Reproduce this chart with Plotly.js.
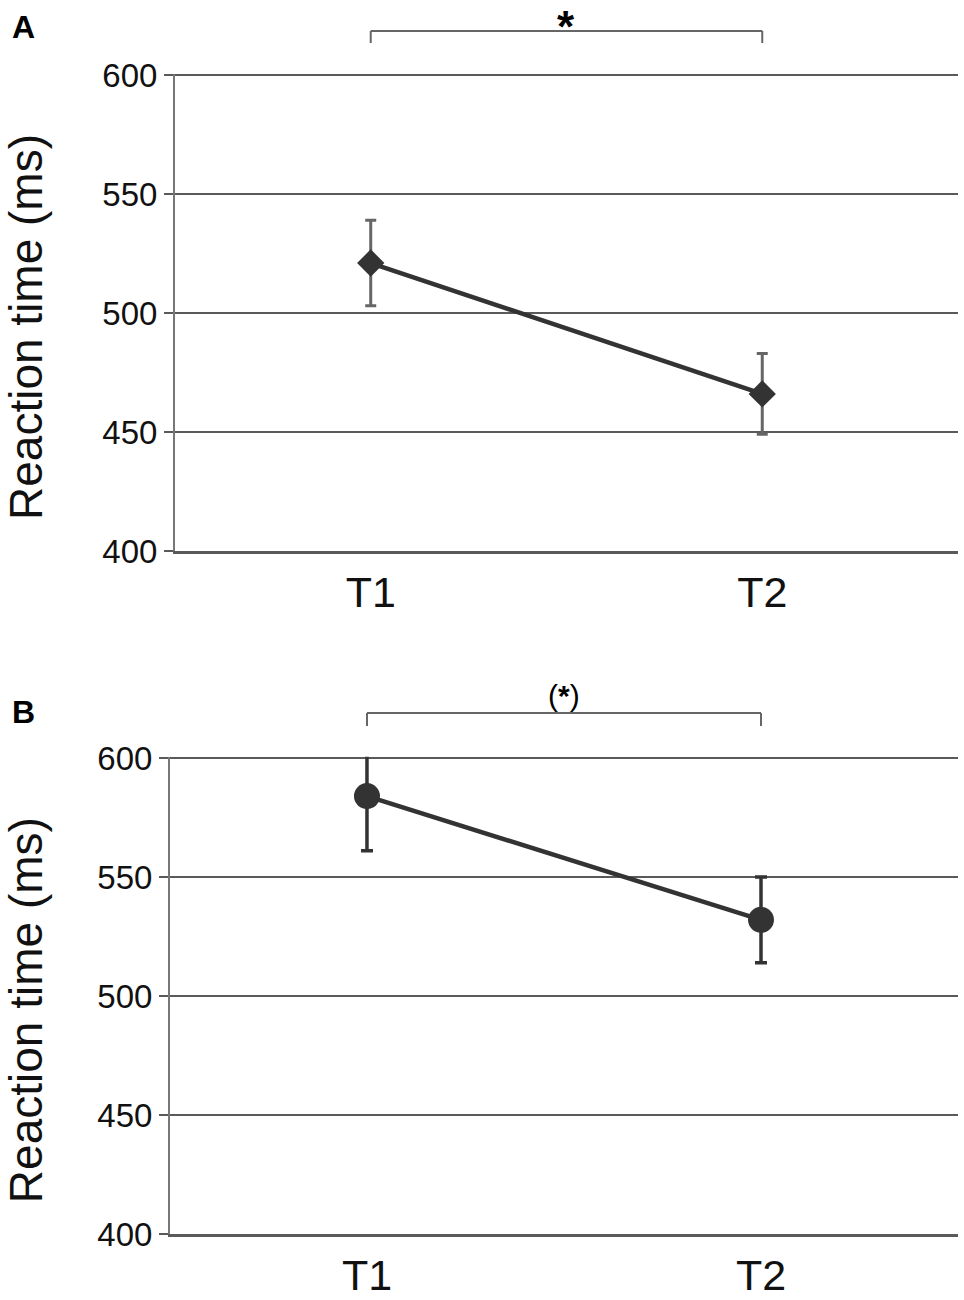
<!DOCTYPE html>
<html>
<head>
<meta charset="utf-8">
<script src="https://cdn.plot.ly/plotly-3.0.1.min.js"></script>
<style>
  html, body { margin: 0; padding: 0; background: #fff; }
  #plot { width: 964px; height: 1300px; }
</style>
</head>
<body>
<div id="plot"></div>
<script>
(function (document, window) {

    // Datos
    var sesiones = ['T1', 'T2'];

    var tiempoA = [521, 466];
    var errorA = [18, 17];

    var tiempoB = [584, 532];
    var errorB = [23, 18];

    var ticksY = [400, 450, 500, 550, 600];

    document.addEventListener("DOMContentLoaded", function () {

        var fuente = 'Liberation Sans, Arial, sans-serif';
        var tituloY = 'Reaction time (ms)';

        var trazaA = {
            x: sesiones, y: tiempoA, type: 'scatter', mode: 'lines+markers',
            xaxis: 'x', yaxis: 'y',
            line: { color: '#333333', width: 4.5 },
            marker: { symbol: 'diamond', size: 21, color: '#333333' },
            error_y: { type: 'data', array: errorA, visible: true, color: '#666666', thickness: 3, width: 5.5 },
            showlegend: false
        };

        var trazaB = {
            x: sesiones, y: tiempoB, type: 'scatter', mode: 'lines+markers',
            xaxis: 'x2', yaxis: 'y2',
            line: { color: '#333333', width: 4.5 },
            marker: { symbol: 'circle', size: 26, color: '#333333' },
            error_y: { type: 'data', array: errorB, visible: true, color: '#333333', thickness: 3.5, width: 6 },
            showlegend: false
        };

        // el rango llega a 600.5 para que se dibuje la linea de 600
        function ejeY(dominio, ancla) {
            return {
                domain: dominio, anchor: ancla,
                range: [400, 600.5], tickvals: ticksY,
                showgrid: true, gridcolor: '#5a5a5a', gridwidth: 2.8,
                zeroline: false,
                showline: true, linecolor: '#777777', linewidth: 2,
                ticks: 'outside', ticklen: 9, tickwidth: 2.8, tickcolor: '#5a5a5a',
                tickfont: { family: fuente, size: 33, color: '#111111' },
                fixedrange: true
            };
        }

        function ejeX(dominio, ancla) {
            return {
                domain: dominio, anchor: ancla,
                type: 'category', range: [-0.5, 1.5],
                showgrid: false, zeroline: false,
                showline: true, linecolor: '#5a5a5a', linewidth: 2.8,
                ticks: 'outside', ticklen: 2, tickcolor: 'rgba(0,0,0,0)',
                tickfont: { family: fuente, size: 43, color: '#111111' },
                fixedrange: true
            };
        }

        // Corchetes de significacion
        function corchete(xref, yBarra, yPata) {
            var linea = { color: '#666666', width: 2 };
            return [
                { type: 'line', xref: xref, yref: 'paper', x0: 0, x1: 1, y0: yBarra, y1: yBarra, line: linea },
                { type: 'line', xref: xref, yref: 'paper', x0: 0, x1: 0, y0: yBarra, y1: yPata, line: linea },
                { type: 'line', xref: xref, yref: 'paper', x0: 1, x1: 1, y0: yBarra, y1: yPata, line: linea }
            ];
        }

        var layout = {
            width: 964, height: 1300,
            margin: { l: 0, r: 0, t: 0, b: 0 },
            paper_bgcolor: '#ffffff', plot_bgcolor: '#ffffff',
            xaxis: ejeX([0.1815, 0.9938], 'y'),
            yaxis: ejeY([0.5762, 0.9432], 'x'),
            xaxis2: ejeX([0.1763, 0.9938], 'y2'),
            yaxis2: ejeY([0.0508, 0.4178], 'x2'),
            shapes: corchete('x', 0.9762, 0.9669).concat(corchete('x2', 0.4515, 0.4415)),
            annotations: [
                { text: tituloY, xref: 'paper', yref: 'paper', x: 0.027, y: 0.7485, textangle: -90,
                  xanchor: 'center', yanchor: 'middle', showarrow: false,
                  font: { family: fuente, size: 46, color: '#111111' } },
                { text: tituloY, xref: 'paper', yref: 'paper', x: 0.027, y: 0.223, textangle: -90,
                  xanchor: 'center', yanchor: 'middle', showarrow: false,
                  font: { family: fuente, size: 46, color: '#111111' } },
                { text: '<b>A</b>', xref: 'paper', yref: 'paper', x: 0.024, y: 0.979,
                  xanchor: 'center', yanchor: 'middle', showarrow: false,
                  font: { family: fuente, size: 32, color: '#000' } },
                { text: '<b>B</b>', xref: 'paper', yref: 'paper', x: 0.024, y: 0.452,
                  xanchor: 'center', yanchor: 'middle', showarrow: false,
                  font: { family: fuente, size: 32, color: '#000' } },
                { text: '<b>*</b>', xref: 'x', yref: 'paper', x: 0.5, y: 0.98,
                  xanchor: 'center', yanchor: 'middle', showarrow: false,
                  font: { family: fuente, size: 44, color: '#000' } },
                { text: '(<b>*</b>)', xref: 'x2', yref: 'paper', x: 0.5, y: 0.4648,
                  xanchor: 'center', yanchor: 'middle', showarrow: false,
                  font: { family: fuente, size: 30, color: '#000' } }
            ]
        };

        Plotly.newPlot('plot', [trazaA, trazaB], layout, { staticPlot: true });
    });

})(document, window);
</script>
</body>
</html>
